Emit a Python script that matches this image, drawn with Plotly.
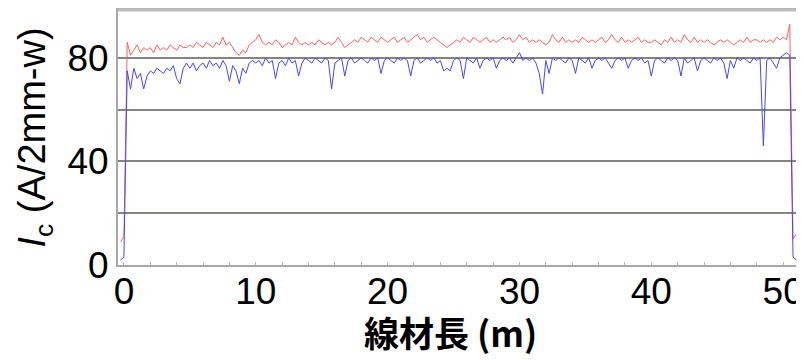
import plotly.graph_objects as go

x_start = -0.25
x_step = 0.25

# Red trace (upper curve)
red = [9, 11,
       86, 81, 83,
       85, 82, 84, 83,
       84, 82, 85, 83,
       84, 83, 85, 84,
       83, 85, 84, 84,
       85, 84, 86, 85,
       84, 86, 85, 84,
       86, 85, 88, 85,
       86, 84, 82, 81,
       83, 82, 85, 86,
       87, 89, 86, 85,
       86, 85, 87, 86,
       84, 85, 86, 85,
       88, 86, 85, 86,
       85, 86, 85, 87,
       86, 85, 86, 85,
       86, 88, 86, 84,
       85, 86, 87, 86,
       88, 87, 86, 88,
       87, 86, 88, 87,
       86, 87, 88, 86,
       87, 88, 86, 87,
       88, 89, 87, 88,
       86, 87, 88, 87,
       86, 85, 84, 85,
       86, 87, 86, 88,
       87, 86, 88, 87,
       86, 87, 88, 86,
       87, 86, 87, 88,
       87, 88, 86, 87,
       89, 87, 88, 86,
       87, 86, 87, 86,
       85, 86, 89, 87,
       86, 88, 86, 87,
       86, 87, 86, 88,
       87, 86, 87, 86,
       87, 88, 86, 87,
       89, 87, 86, 88,
       86, 87, 86, 87,
       88, 86, 87, 86,
       86, 87, 86, 85,
       87, 86, 88, 86,
       87, 86, 89, 87,
       86, 88, 86, 87,
       86, 87, 86, 85,
       86, 87, 86, 87,
       86, 85, 86, 87,
       86, 88, 86, 87,
       87, 86, 87, 86,
       87, 86, 88, 87,
       88, 87, 93,
       10, 12]

# Blue trace (lower curve)
blue = [2, 3,
        75, 68, 76,
        72, 74, 68, 73,
        75, 74, 76, 75,
        74, 76, 75, 77,
        72, 70, 76, 78,
        76, 78, 75, 77,
        78, 76, 79, 77,
        78, 76, 79, 77,
        71, 77, 75, 70,
        76, 74, 78, 79,
        78, 79, 77, 80,
        78, 79, 72, 78,
        79, 77, 80, 78,
        79, 73, 78, 80,
        79, 78, 80, 79,
        78, 80, 79, 68,
        78, 79, 80, 73,
        79, 80, 78, 79,
        80, 79, 78, 80,
        79, 80, 74, 79,
        80, 79, 78, 80,
        79, 80, 79, 73,
        79, 80, 78, 79,
        80, 79, 80, 78,
        79, 75, 76, 75,
        79, 80, 79, 72,
        80, 79, 78, 80,
        76, 79, 80, 79,
        80, 76, 79, 80,
        79, 80, 78, 80,
        82, 79, 80, 79,
        80, 78, 74, 66,
        79, 74, 80, 79,
        80, 79, 78, 80,
        79, 74, 80, 79,
        78, 80, 76, 79,
        80, 79, 80, 78,
        76, 79, 80, 79,
        80, 76, 79, 80,
        79, 80, 78, 79,
        73, 79, 80, 79,
        78, 80, 79, 80,
        79, 73, 80, 78,
        79, 80, 75, 79,
        80, 79, 78, 80,
        79, 80, 78, 72,
        79, 76, 80, 79,
        80, 79, 78, 80,
        79, 80, 46, 79,
        80, 78, 76, 80,
        81, 82, 81,
        3, 2]

x_red = [x_start + x_step * i for i in range(len(red))]
x_blue = [x_start + x_step * i for i in range(len(blue))]

y_tickvals = [0, 20, 40, 60, 80]
y_ticktext = ["0", "", "40", "", "80"]
x_tickvals = [0, 10, 20, 30, 40, 50]
x_title = "線材長 (m)"
y_title = "<i>I</i><sub>c</sub> (A/2mm-w)"

fig = go.Figure()
fig.add_trace(go.Scatter(x=x_red, y=red, mode="lines",
                         line=dict(color="rgb(255,95,95)", width=1)))
fig.add_trace(go.Scatter(x=x_blue, y=blue, mode="lines",
                         line=dict(color="rgb(70,70,255)", width=1)))

# The page body adds an 8px offset, so the figure is 796x352
fig.update_layout(
    width=796, height=352,
    margin=dict(l=110, r=7, t=2, b=95),
    paper_bgcolor="white", plot_bgcolor="white",
    showlegend=False,
    font=dict(family="Liberation Sans, Arial, sans-serif", color="black"),
    shapes=[dict(type="line", xref="paper", yref="paper", x0=0, x1=1, y0=1, y1=1,
                 line=dict(color="#bdbdbd", width=3))],
    annotations=[dict(text=x_title, xref="paper", yref="paper", x=0.49, y=-0.262,
                      xanchor="center", yanchor="middle", showarrow=False,
                      font=dict(family="Noto Sans CJK JP", size=35, weight="bold"))],
)
fig.update_xaxes(
    range=[-0.45, 51.05], tickvals=x_tickvals, ticks="", automargin=False,
    tickfont=dict(size=37), ticklabelstandoff=-7, showgrid=False, zeroline=False,
    showline=True, mirror=True, linecolor="#a8a8a8", linewidth=2,
    minor=dict(dtick=2, ticks="inside", ticklen=3, tickcolor="#c8a8a0", showgrid=False),
)
fig.update_yaxes(
    range=[0, 98.5], tickvals=y_tickvals, ticktext=y_ticktext, ticks="", automargin=False,
    tickfont=dict(size=37), showgrid=True, gridcolor="#85857d", gridwidth=1.5,
    zeroline=False, showline=True, mirror=True, linecolor="#a8a8a8", linewidth=2,
    title=dict(text=y_title, standoff=10, font=dict(size=38)),
)

fig.write_html("out.html")
